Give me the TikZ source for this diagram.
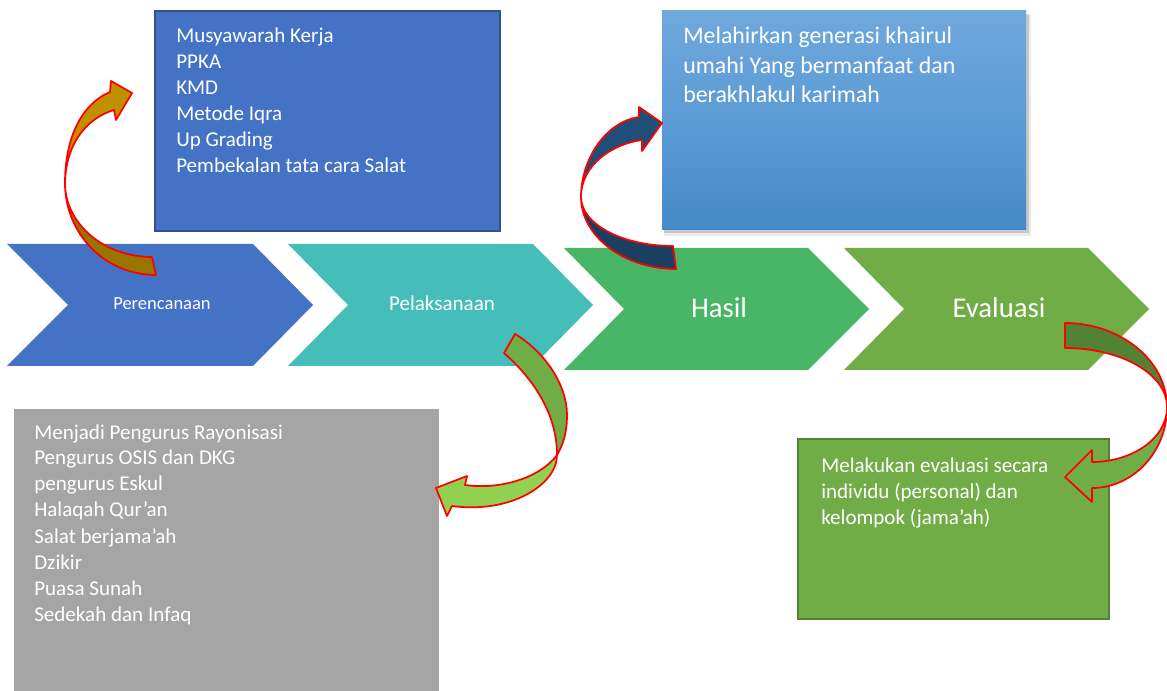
\documentclass[tikz,border=0pt]{standalone}
\usepackage{fontspec}
\setmainfont{Carlito}
\usetikzlibrary{fit}
\definecolor{chevA}{HTML}{4472C4}
\definecolor{chevB}{HTML}{45BEB9}
\definecolor{chevC}{HTML}{48B666}
\definecolor{chevD}{HTML}{70AD47}
\definecolor{boxBorder}{HTML}{2F528F}
\definecolor{grayBox}{HTML}{A5A5A5}
\definecolor{hasTop}{HTML}{6FA8DC}
\definecolor{hasMid}{HTML}{5B9BD5}
\definecolor{hasBot}{HTML}{4689C9}
\definecolor{evBorder}{HTML}{548235}
\definecolor{arrRed}{HTML}{FF0000}
\definecolor{goldLight}{HTML}{BF9000}
\definecolor{goldDark}{HTML}{9A7400}
\definecolor{navyLight}{HTML}{1F4E79}
\definecolor{navyDark}{HTML}{1B3F60}
\definecolor{grnDark}{HTML}{70AD47}
\definecolor{grnLight}{HTML}{92D050}
\definecolor{evDark}{HTML}{548235}
\definecolor{evLight}{HTML}{70AD47}
\begin{document}
\begin{tikzpicture}[x=0.75pt,y=-0.75pt,
  outl/.style={draw=arrRed, line width=1.3pt, line join=round},
  lbl/.style={text=white, inner sep=0, anchor=base},
  boxtxt/.style={text=white, inner sep=0, anchor=base west, font=\fontsize{15.8}{19.5}\selectfont}]
\useasboundingbox (0,0) rectangle (1167,691);
\fill[white] (0,0) rectangle (1167,691);

% chevrons
\fill[chevA] (7,244) -- (253,244) -- (313,305) -- (253,366) -- (7,366) -- (68,305) -- cycle;
\fill[chevB] (288,244) -- (533,244) -- (593,305) -- (533,366) -- (288,366) -- (348,305) -- cycle;
\fill[chevC] (564,248) -- (808,248) -- (869,309) -- (808,370) -- (564,370) -- (624,309) -- cycle;
\fill[chevD] (844,248) -- (1088,248) -- (1149,309) -- (1088,370) -- (844,370) -- (904,309) -- cycle;
\node[lbl, font=\fontsize{13.9}{16}\selectfont] (p1) at (162,310) {Perencanaan};
\node[lbl, font=\fontsize{15.8}{18}\selectfont] (p2) at (442,311) {Pelaksanaan};
\node[lbl, font=\fontsize{21.5}{24}\selectfont] (p3) at (719,318) {Hasil};
\node[lbl, font=\fontsize{21.5}{24}\selectfont] (p4) at (999,318) {Evaluasi};

% box 1
\node[fit={(155,11) (500,231)}, inner sep=0, fill=chevA, draw=boxBorder, line width=1.5pt] (b1) {};
\node[boxtxt] (t1) at (176,43) {\parbox[t]{250pt}{Musyawarah Kerja\\PPKA\\KMD\\Metode Iqra\\Up Grading\\Pembekalan tata cara Salat}};

% box 2 (hasil) with shadow
\fill[black, opacity=0.08] (664,15) rectangle (1031,236);
\fill[black, opacity=0.15] (664,14) rectangle (1029,233);
\node[fit={(662,11) (1026,230)}, inner sep=0, top color=hasTop, bottom color=hasBot, middle color=hasMid] (b2) {};
\node[boxtxt, font=\fontsize{17.9}{22.1}\selectfont] (t2) at (683,44) {\parbox[t]{300pt}{Melahirkan generasi khairul\\umahi Yang bermanfaat dan\\berakhlakul karimah}};

% box 3 (gray)
\node[fit={(14,409) (439,691)}, inner sep=0, fill=grayBox] (b3) {};
\node[boxtxt] (t3) at (34,439) {\parbox[t]{300pt}{Menjadi Pengurus Rayonisasi\\Pengurus OSIS dan DKG\\pengurus Eskul\\Halaqah Qur’an\\Salat berjama’ah\\Dzikir\\Puasa Sunah\\Sedekah dan Infaq}};

% box 4 (green)
\node[fit={(798,439) (1109,619)}, inner sep=0, fill=chevD, draw=evBorder, line width=1.5pt] (b4) {};
\node[boxtxt] (t4) at (821,472) {\parbox[t]{250pt}{Melakukan evaluasi secara\\individu (personal) dan\\kelompok (jama’ah)}};

% arrow 1 (gold)
\path[outl, fill=goldDark] (152,257) .. controls (104,257) and (65,224) .. (65,183)
  .. controls (65,234) and (105,275) .. (156,275) -- cycle;
\path[outl, fill=goldLight] (65,183) .. controls (65,140) and (80,105) .. (110,92)
  -- (111,81) -- (132,93) -- (116,120) -- (114,110)
  .. controls (90,117) and (66,140) .. (65,183) -- cycle;

% arrow 2 (navy)
\path[outl, fill=navyDark] (673,246) .. controls (622,246) and (581,224) .. (581,197)
  .. controls (581,237) and (625,269) .. (676,269) -- cycle;
\path[outl, fill=navyLight] (581,197) .. controls (581,160) and (605,122) .. (639,117)
  -- (639,107) -- (662,123) -- (642,151) -- (642,140)
  .. controls (612,144) and (581,165) .. (581,197) -- cycle;

% arrow 3 (green)
\path[outl, fill=grnDark] (515,334) .. controls (545,352) and (567,385) .. (567,415)
  .. controls (567,433) and (563,445) .. (557,455)
  .. controls (557,420) and (540,385) .. (504,353) -- cycle;
\path[outl, fill=grnLight] (557,455) .. controls (540,478) and (500,490) .. (465,485)
  -- (467,476) -- (436,488) -- (447,516) -- (452,506)
  .. controls (510,514) and (557,485) .. (557,455) -- cycle;

% arrow 4 (evaluasi)
\path[outl, fill=evDark] (1065,323) .. controls (1121,323) and (1167,361) .. (1167,407)
  .. controls (1167,374) and (1121,348) .. (1065,348) -- cycle;
\path[outl, fill=evLight] (1167,407) .. controls (1167,452) and (1133,488) .. (1092,488)
  -- (1092,502) -- (1065,477) -- (1092,450) -- (1092,462)
  .. controls (1130,462) and (1167,440) .. (1167,407) -- cycle;
\end{tikzpicture}
\end{document}
